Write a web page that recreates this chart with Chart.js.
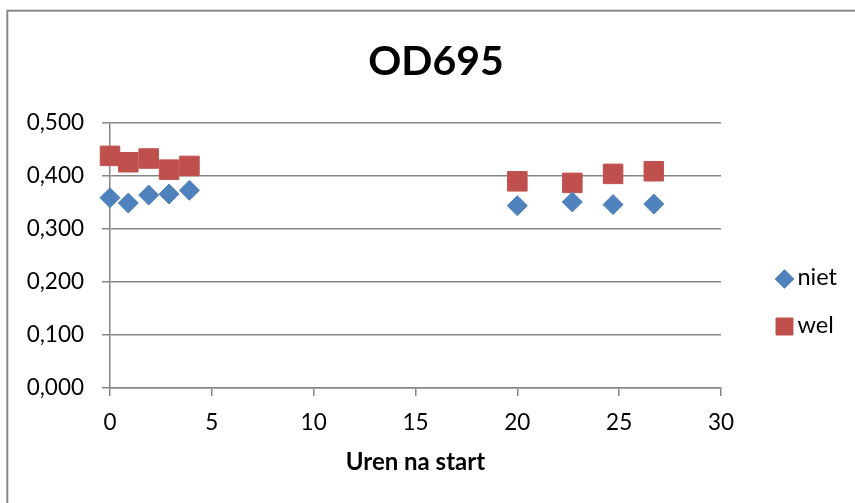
<!DOCTYPE html>
<html>
<head>
<meta charset="utf-8">
<script src="https://cdn.jsdelivr.net/npm/chart.js@4/dist/chart.umd.min.js"></script>
<style>
  html, body { margin: 0; padding: 0; background: #ffffff; }
  #wrap { position: relative; width: 855px; height: 503px; }
  canvas { display: block; }
</style>
</head>
<body>
<div id="wrap"><canvas id="c" width="855" height="503"></canvas></div>
<script>
// ---- data ----
const chartTitle = 'OD695';
const xAxisTitle = 'Uren na start';
const seriesNames = ['niet', 'wel'];
const nietHours  = [0, 0.9, 1.9, 2.9, 3.9, 20, 22.7, 24.7, 26.7];
const nietValues = [0.359, 0.349, 0.364, 0.366, 0.373, 0.344, 0.351, 0.346, 0.347];
const welHours   = [0, 0.9, 1.9, 2.9, 3.9, 20, 22.7, 24.7, 26.7];
const welValues  = [0.438, 0.426, 0.433, 0.412, 0.419, 0.390, 0.387, 0.404, 0.409];
const xTickLabels = ['0', '5', '10', '15', '20', '25', '30'];
const yTickLabels = ['0,000', '0,100', '0,200', '0,300', '0,400', '0,500'];

// ---- styles ----
const GRID = '#868686';
const BLUE = '#4F81BD';
const RED = '#C0504D';
const FONT = 'Lato';

function toPoints(xs, ys) { return xs.map((x, i) => ({ x: x, y: ys[i] })); }

const frameAndLegend = {
  id: 'frameAndLegend',
  beforeInit(chart) {
    const legendRadius = [9.3, 12];
    const box = {
      position: 'right',
      weight: 0,
      fullSize: false,
      options: {},
      isHorizontal() { return false; },
      update(maxW, maxH) { this.width = 134; this.height = maxH; },
      getPadding() { return { top: 0, left: 0, right: 0, bottom: 0 }; },
      draw() {
        const ctx = chart.ctx;
        chart.data.datasets.forEach((ds, i) => {
          const cx = this.left + 63.5;
          const cy = this.top + 156 + i * 47.5;
          ctx.save();
          ctx.fillStyle = ds.backgroundColor;
          ctx.strokeStyle = ds.borderColor;
          ctx.lineWidth = 1;
          Chart.helpers.drawPoint(ctx, { pointStyle: ds.pointStyle, radius: legendRadius[i], borderWidth: 1, rotation: 0 }, cx, cy);
          ctx.fillStyle = '#000000';
          ctx.font = '23.5px ' + FONT;
          ctx.textAlign = 'left';
          ctx.textBaseline = 'middle';
          ctx.fillText(ds.label, this.left + 76.5, cy - 1.5);
          ctx.restore();
        });
      }
    };
    Chart.layouts.addBox(chart, box);
  },
  beforeDraw(chart) {
    const ctx = chart.ctx;
    ctx.save();
    ctx.fillStyle = '#ffffff';
    ctx.fillRect(0, 0, chart.width, chart.height);
    ctx.strokeStyle = '#898989';
    ctx.lineWidth = 2;
    ctx.strokeRect(7.3, 10.7, 1000, 1000);
    ctx.restore();
  }
};

new Chart(document.getElementById('c'), {
  type: 'scatter',
  data: {
    datasets: [
      {
        label: seriesNames[0],
        data: toPoints(nietHours, nietValues),
        pointStyle: 'rectRot',
        pointRadius: 10,
        backgroundColor: BLUE,
        borderColor: BLUE,
        borderWidth: 1,
        clip: false
      },
      {
        label: seriesNames[1],
        data: toPoints(welHours, welValues),
        pointStyle: 'rect',
        pointRadius: 13.8,
        backgroundColor: RED,
        borderColor: RED,
        borderWidth: 1,
        clip: false
      }
    ]
  },
  options: {
    responsive: false,
    animation: false,
    devicePixelRatio: 1,
    events: [],
    layout: { padding: { left: 17, right: 0, top: 0, bottom: 0 } },
    plugins: {
      legend: { display: false },
      tooltip: { enabled: false },
      title: {
        display: true,
        text: chartTitle,
        color: '#000000',
        font: { family: FONT, size: 41, weight: 'bold', lineHeight: 1.2 },
        padding: { top: 37, bottom: 36.8 }
      }
    },
    scales: {
      x: {
        type: 'linear',
        min: 0, max: 30,
        afterFit(scale) { scale.height = 115; },
        ticks: {
          stepSize: 5,
          color: '#000000',
          font: { family: FONT, size: 22.5 },
          padding: 13,
          maxRotation: 0,
          callback: (v, i) => xTickLabels[i]
        },
        grid: { drawOnChartArea: false, drawTicks: true, tickLength: 8, color: GRID, lineWidth: 1.5 },
        border: { display: true, color: GRID, width: 1.5 },
        title: {
          display: true,
          text: xAxisTitle,
          color: '#000000',
          font: { family: FONT, size: 24, weight: 'bold', lineHeight: 1.2 },
          padding: { top: 0, bottom: 26.3 }
        }
      },
      y: {
        type: 'linear',
        min: 0, max: 0.5,
        afterFit(scale) { scale.width = 93; },
        ticks: {
          stepSize: 0.1,
          color: '#000000',
          font: { family: FONT, size: 22.5 },
          padding: 18,
          callback: (v, i) => yTickLabels[i]
        },
        grid: { drawTicks: true, tickLength: 8, color: GRID, lineWidth: 1.5 },
        border: { display: true, color: GRID, width: 1.5 }
      }
    }
  },
  plugins: [frameAndLegend]
});
</script>
</body>
</html>
